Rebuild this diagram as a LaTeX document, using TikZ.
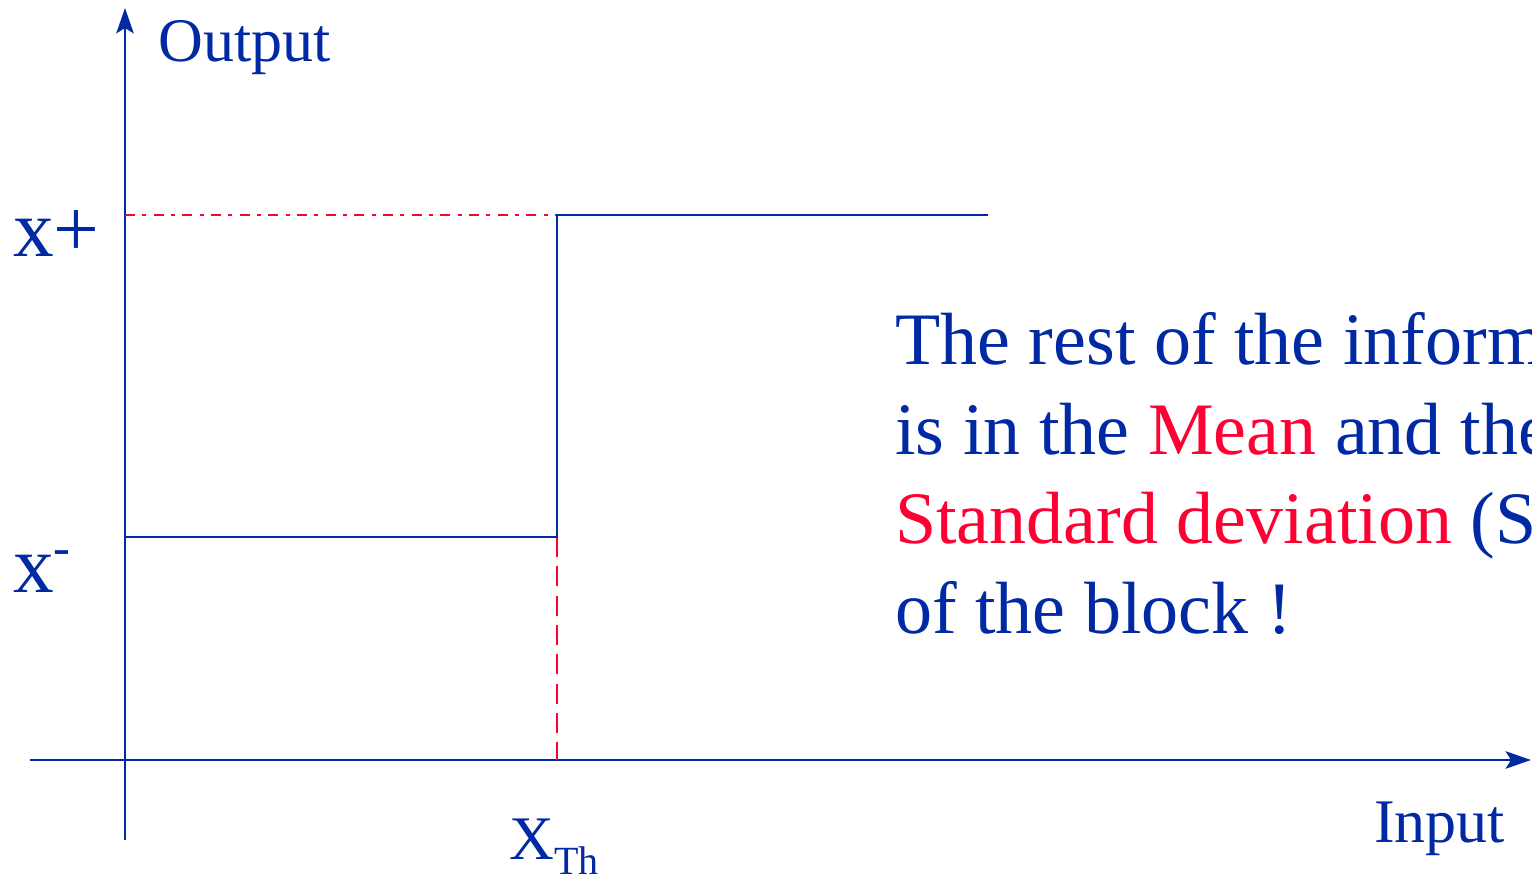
\documentclass[tikz,border=0pt]{standalone}
\usepackage{fontspec}
\setmainfont{Liberation Serif}
\usetikzlibrary{arrows.meta}
\definecolor{figblue}{RGB}{0,41,163}
\definecolor{figred}{RGB}{255,0,51}

\begin{document}
\begin{tikzpicture}[
	x=0.75pt, y=0.75pt,
	lbl/.style = {text=figblue, inner sep=0, anchor=base west, font=\fontsize{46.5}{50}\selectfont},
	lvl/.style = {lbl, font=\fontsize{61}{64}\selectfont},
	txt/.style = {lbl, font=\fontsize{55.5}{66}\selectfont},
	axis/.style = {-{Stealth[length=19pt, width=13pt, inset=4pt]}, draw=figblue, line width=2.2pt},
	trace/.style = {draw=figblue, line width=2.2pt},
	dsh/.style = {draw=figred, line width=2.2pt, dash pattern=on 15pt off 7pt},
	dshdot/.style = {draw=figred, line width=2.2pt, dash pattern=on 7.5pt off 5.5pt on 3pt off 5.5pt}
	]
	\useasboundingbox (0, 0) rectangle (1532, 878);
	\clip (0, 0) rectangle (1532, 878);
	
	%Points
	\coordinate	(ybot)		at	(125, 38);
	\coordinate	(ytop)		at	(125, 870);
	\coordinate	(xleft)		at	(30, 118);
	\coordinate	(xright)	at	(1531, 118);
	\coordinate	(lowL)		at	(125, 341);
	\coordinate	(lowR)		at	(557, 341);
	\coordinate	(highL)		at	(125, 663);
	\coordinate	(highR)		at	(557, 663);
	\coordinate	(highEnd)	at	(988, 663);
	\coordinate	(thr)		at	(557, 118);
	
	%Nodes
	\node[lbl]	(out)	at	(158, 816)	{Output};
	\node[lbl]	(in)	at	(1374, 35)	{Input};
	\node[lvl]	(xp)	at	(13, 621)	{x+};
	\node[lvl]	(xm)	at	(13, 285)	{x\raisebox{21pt}{\fontsize{38}{40}\selectfont -}};
	\node[lbl]	(xth)	at	(509, 18)	{X\raisebox{-11.25pt}{\fontsize{30}{32}\selectfont Th}};
	\node[txt]	(l1)	at	(895, 513)	{The rest of the information};
	\node[txt]	(l2)	at	(895, 423)	{is in the \textcolor{figred}{Mean} and the};
	\node[txt]	(l3)	at	(895, 334)	{\textcolor{figred}{Standard deviation} (SD)};
	\node[txt]	(l4)	at	(895, 244)	{of the block !};
	
	%Lines
	\draw[axis]		(ybot)	--	(ytop);
	\draw[axis]		(xleft)	--	(xright);
	\draw[dshdot]	(highL)	--	(highR);
	\draw[dsh]		(lowR)	--	(thr);
	\draw[trace]	(lowL)	--	(lowR)	--	(highR)	--	(highEnd);
\end{tikzpicture}
\end{document}
